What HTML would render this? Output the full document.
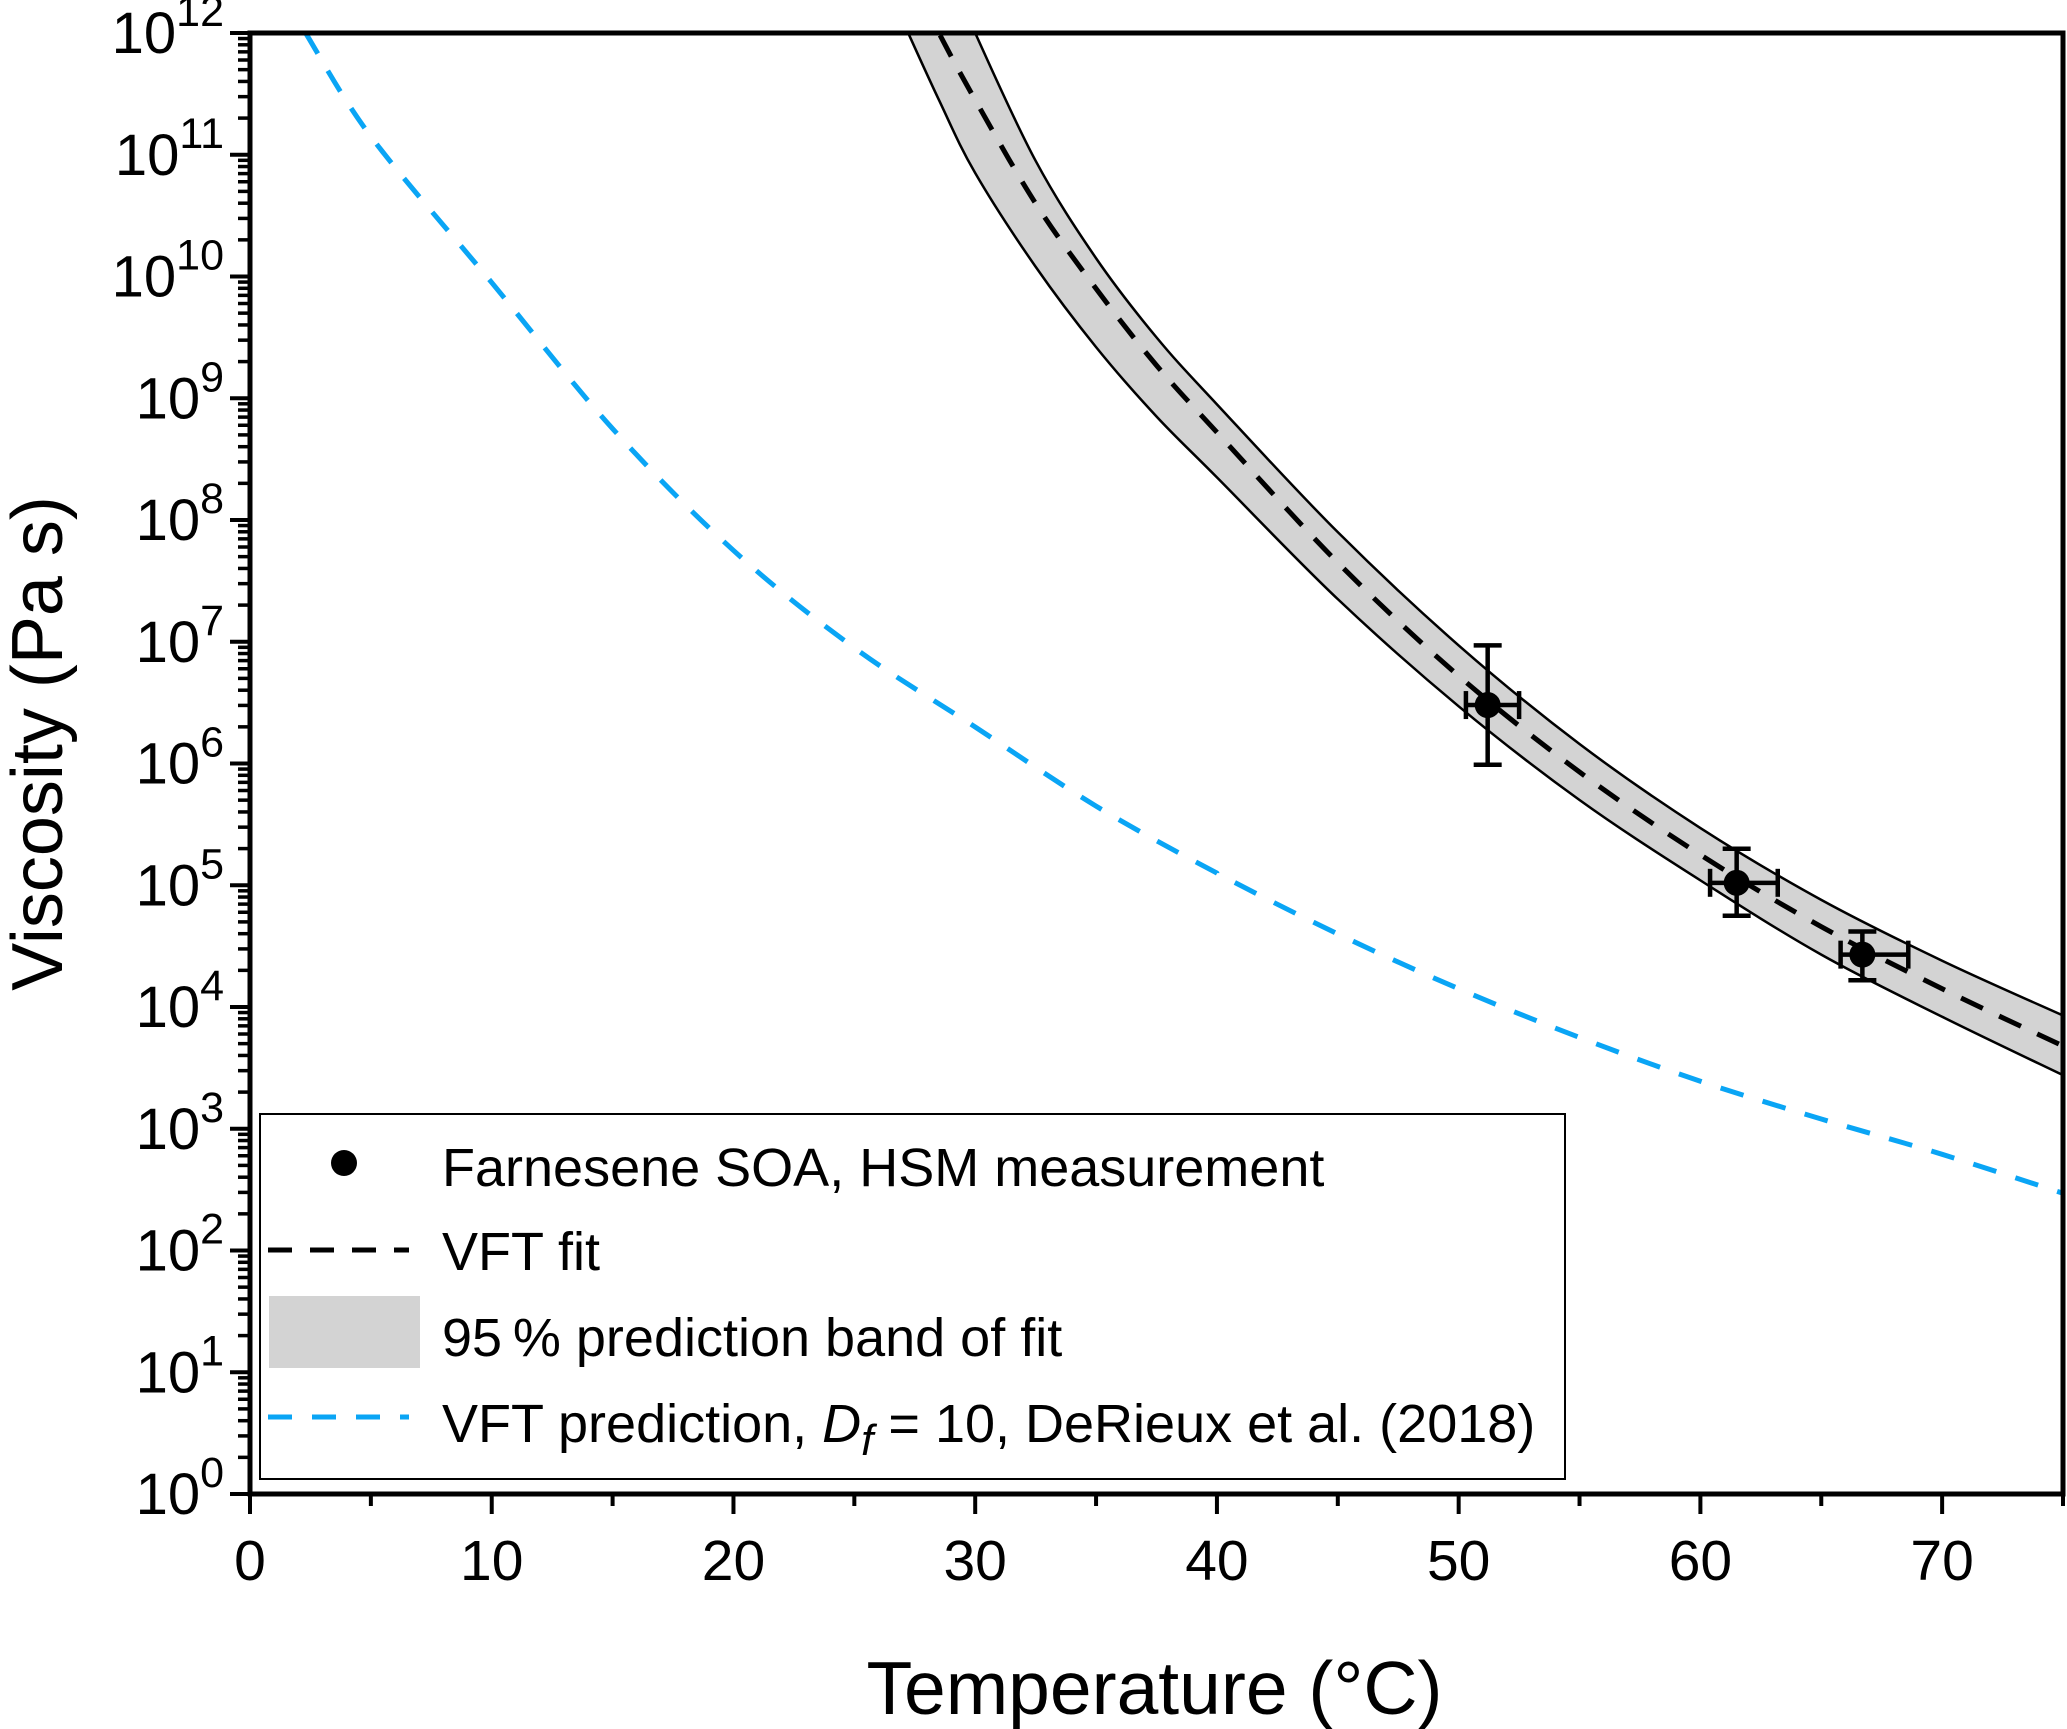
<!DOCTYPE html>
<html><head><meta charset="utf-8"><style>
html,body{margin:0;padding:0;background:#fff;}
svg{display:block;font-family:"Liberation Sans",Arial,sans-serif;}
</style></head><body>
<svg id="chart" width="2067" height="1729" viewBox="0 0 2067 1729">
<g id="band"></g>
<g id="lines"></g>
<g id="points"></g>
<g id="axes"></g>
<g id="legend"></g>
</svg>
<script>
const fitT = [27, 28.5, 30, 32.5, 35, 37.5, 40, 45, 50, 55, 60, 65, 70, 75];
const fitLog = [12.6, 12.0, 11.45, 10.6, 9.9, 9.27, 8.72, 7.65, 6.72, 5.93, 5.25, 4.66, 4.15, 3.68];
const bandUpper = [13.4, 12.7, 12.0, 10.95, 10.15, 9.5, 8.95, 7.9, 6.97, 6.16, 5.47, 4.88, 4.38, 3.93];
const bandLower = [12.1, 11.45, 10.85, 10.08, 9.42, 8.85, 8.35, 7.35, 6.47, 5.7, 5.04, 4.43, 3.92, 3.44];
const predT = [2.3, 5, 10, 15, 20, 25, 30, 35, 40, 45, 50, 55, 60, 65, 70, 75];
const predLog = [12.0, 11.15, 9.95, 8.75, 7.75, 6.95, 6.3, 5.65, 5.1, 4.6, 4.15, 3.75, 3.39, 3.08, 2.79, 2.47];
const ptT = [51.2, 61.5, 66.7];
const ptLog = [6.48, 5.02, 4.43];
const ptYLo = [5.99, 4.75, 4.22];
const ptYHi = [6.97, 5.30, 4.62];
const ptXLo = [50.3, 60.4, 65.8];
const ptXHi = [52.5, 63.2, 68.6];
const xTicks = [0, 10, 20, 30, 40, 50, 60, 70];
const yTicks = [0,1,2,3,4,5,6,7,8,9,10,11,12];

const L=250,R=2063,T=33,B=1494,X0=0,X1=75,Y0=0,Y1=12;
const sx=v=>L+(v-X0)/(X1-X0)*(R-L);
const sy=v=>B-(v-Y0)/(Y1-Y0)*(B-T);
const NS="http://www.w3.org/2000/svg";
function mk(tag,attrs,parent){const e=document.createElementNS(NS,tag);for(const k in attrs)e.setAttribute(k,attrs[k]);parent.appendChild(e);return e;}
const svg=document.getElementById('chart');
const defs=mk('defs',{},svg);
const cp=mk('clipPath',{id:'clip'},defs);mk('rect',{x:L,y:T,width:R-L,height:B-T},cp);
const gBand=document.getElementById('band'),gLines=document.getElementById('lines'),gPts=document.getElementById('points'),gAx=document.getElementById('axes'),gLeg=document.getElementById('legend');
gBand.setAttribute('clip-path','url(#clip)');gLines.setAttribute('clip-path','url(#clip)');

function segs(p){let d='';
for(let i=0;i<p.length-1;i++){const p0=p[Math.max(0,i-1)],p1=p[i],p2=p[i+1],p3=p[Math.min(p.length-1,i+2)];
d+=' C'+(p1[0]+(p2[0]-p0[0])/6)+','+(p1[1]+(p2[1]-p0[1])/6)+' '+(p2[0]-(p3[0]-p1[0])/6)+','+(p2[1]-(p3[1]-p1[1])/6)+' '+p2[0]+','+p2[1];}return d;}
function pts(xs,ys){return xs.map((x,i)=>[sx(x),sy(ys[i])]);}
function smoothPath(xs,ys){const p=pts(xs,ys);return 'M'+p[0][0]+','+p[0][1]+segs(p);}

// band
const pu=pts(fitT,bandUpper), pl0=pts(fitT,bandLower).reverse();
let bp=mk('path',{d:'M'+pu[0][0]+','+pu[0][1]+segs(pu)+' L'+pl0[0][0]+','+pl0[0][1]+segs(pl0)+' Z',fill:'#d3d3d3',stroke:'none'},gBand);


let ub=mk('path',{d:smoothPath(fitT,bandUpper),fill:'none',stroke:'#000','stroke-width':2.5},gBand);


let lb=mk('path',{d:smoothPath(fitT,bandLower),fill:'none',stroke:'#000','stroke-width':2.5},gBand);



let fl=mk('path',{d:smoothPath(fitT,fitLog),fill:'none',stroke:'#000','stroke-width':5,'stroke-dasharray':'24,18'},gLines);


let pl=mk('path',{d:smoothPath(predT,predLog),fill:'none',stroke:'#0aa5f5','stroke-width':5,'stroke-dasharray':'24,20'},gLines);



ptT.forEach((t,i)=>{
 const g=mk('g',{stroke:'#000','stroke-width':4.5},gPts);
 
 
 const x=sx(t),y=sy(ptLog[i]),y1=sy(ptYLo[i]),y2=sy(ptYHi[i]),x1=sx(ptXLo[i]),x2=sx(ptXHi[i]);
 mk('line',{x1:x,y1:y1,x2:x,y2:y2},g);
 mk('line',{x1:x-14,y1:y1,x2:x+14,y2:y1},g);
 mk('line',{x1:x-14,y1:y2,x2:x+14,y2:y2},g);
 mk('line',{x1:x1,y1:y,x2:x2,y2:y},g);
 mk('line',{x1:x1,y1:y-14,x2:x1,y2:y+14},g);
 mk('line',{x1:x2,y1:y-14,x2:x2,y2:y+14},g);
 mk('circle',{cx:x,cy:y,r:13,fill:'#000',stroke:'none'},g);
});

// axes
let fr=mk('rect',{x:L,y:T,width:R-L,height:B-T,fill:'none',stroke:'#000','stroke-width':5},gAx);


for(let v=0;v<=75;v+=5){const major=v%10===0;mk('line',{x1:sx(v),y1:B,x2:sx(v),y2:B+(major?20:12),stroke:'#000','stroke-width':4},gAx);}
xTicks.forEach(v=>{const t=mk('text',{x:sx(v),y:B+86,'font-size':57,'text-anchor':'middle'},gAx);t.textContent=v;
 
 });
yTicks.forEach(v=>{mk('line',{x1:L,y1:sy(v),x2:L-20,y2:sy(v),stroke:'#000','stroke-width':4},gAx);
 if(v<12)for(let m=2;m<=9;m++){const yy=sy(v+Math.log10(m));mk('line',{x1:L,y1:yy,x2:L-12,y2:yy,stroke:'#000','stroke-width':3.5},gAx);}
 const t=mk('text',{x:L-26,y:sy(v)+20,'font-size':58,'text-anchor':'end'},gAx);
 t.innerHTML='10<tspan dy="-27" font-size="43">'+v+'</tspan>';
 
 });
let xt=mk('text',{x:(L+R)/2-2,y:1714,'font-size':75,'text-anchor':'middle'},gAx);xt.textContent='Temperature (°C)';


let yt=mk('text',{x:0,y:0,'font-size':72,'text-anchor':'middle',transform:'translate(62,'+((T+B)/2-20)+') rotate(-90)'},gAx);yt.textContent='Viscosity (Pa s)';



// legend
let lr=mk('rect',{x:260,y:1114,width:1305,height:365,fill:'#fff',stroke:'#000','stroke-width':2},gLeg);


mk('circle',{cx:344,cy:1163,r:13,fill:'#000'},gLeg);
mk('line',{x1:268,y1:1250,x2:409,y2:1250,stroke:'#000','stroke-width':5,'stroke-dasharray':'24,18'},gLeg);
mk('rect',{x:269,y:1296,width:151,height:72,fill:'#d3d3d3'},gLeg);
mk('line',{x1:268,y1:1417,x2:409,y2:1417,stroke:'#0aa5f5','stroke-width':5,'stroke-dasharray':'24,20'},gLeg);
const legTexts=['Farnesene SOA, HSM measurement','VFT fit','95\u2009% prediction band of fit',null];
const legY=[1186,1270,1356,1442];
legTexts.forEach((s,i)=>{const t=mk('text',{x:442,y:legY[i],'font-size':54},gLeg);
 if(s)t.textContent=s;else t.innerHTML='VFT prediction, <tspan font-style="italic">D</tspan><tspan font-style="italic" dy="13" font-size="44">f</tspan><tspan dy="-13"> = 10, DeRieux et al. (2018)</tspan>';
 
 });
</script>
</body></html>
